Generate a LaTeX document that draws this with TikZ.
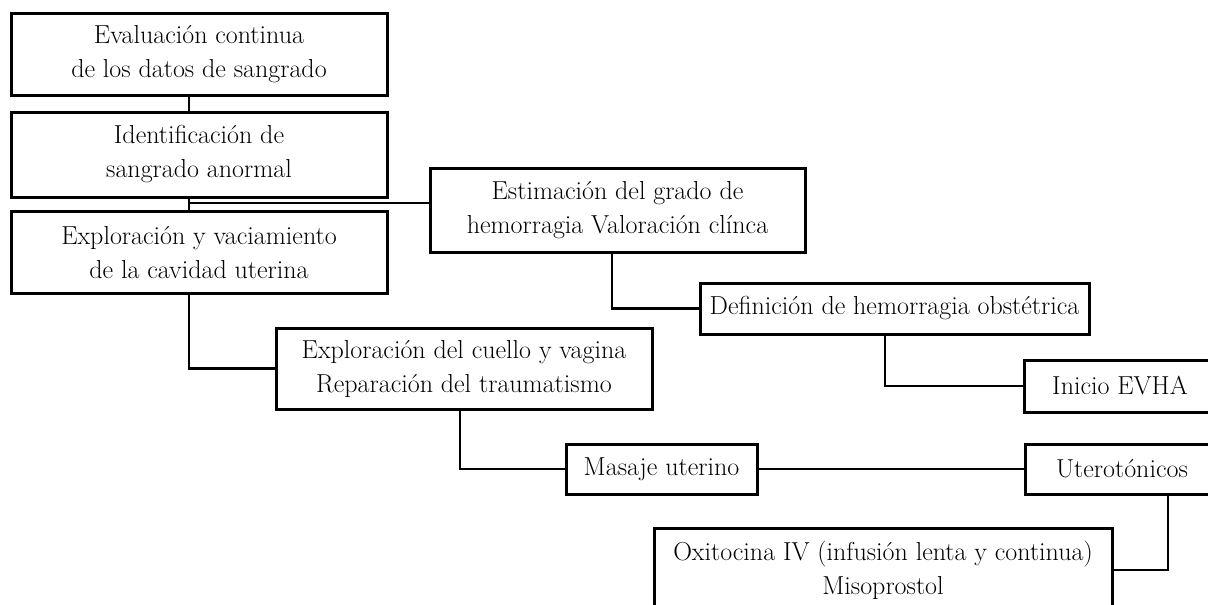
\documentclass[tikz,border=0pt]{standalone}
\tikzset{box/.style={draw,line width=3pt,align=center,inner sep=0pt,font=\fontsize{26}{34}\selectfont}}

\begin{document}
\begin{tikzpicture}[x=1pt,y=-1pt,line width=2.8pt]
        \useasboundingbox (0,0) rectangle (1208,605);
        \clip (0,0) rectangle (1208,605);
        \node[box,minimum width=376pt,minimum height=82pt] (eval) at (199,54) {Evaluación continua\\de los datos de sangrado};
        \node[box,minimum width=376pt,minimum height=85pt] (ident) at (199,154.5) {Identificación de\\sangrado anormal};
        \node[box,minimum width=376pt,minimum height=82pt] (explo) at (199,252.5) {Exploración y vaciamiento\\de la cavidad uterina};
        \node[box,minimum width=375pt,minimum height=84pt] (estim) at (617.5,210) {Estimación del grado de\\hemorragia Valoración clínca};
        \node[box,minimum width=389pt,minimum height=51pt] (defin) at (894.5,308.5) {Definición de hemorragia obstétrica};
        \node[box,minimum width=192pt,minimum height=52pt] (inicio) at (1120,386) {Inicio EVHA};
        \node[box,minimum width=376pt,minimum height=81pt] (cuello) at (464,368.5) {Exploración del cuello y vagina\\Reparación del traumatismo};
        \node[box,minimum width=191pt,minimum height=50pt] (masaje) at (661.5,469) {Masaje uterino};
        \node[box,minimum width=194pt,minimum height=50pt] (utero) at (1122,469) {Uterotónicos};
        \node[box,minimum width=458pt,minimum height=84pt] (oxi) at (883,570) {Oxitocina IV (infusión lenta y continua)\\Misoprostol};
        % connectors
        \coordinate (trunk) at (189,203);
        \coordinate (k1) at (612,0);
        \coordinate (k2) at (885,0);
        \coordinate (k3) at (460,0);
        \coordinate (k4) at (1168,0);
        \draw (eval.south -| trunk) -- (ident.north -| trunk);
        \draw (ident.south -| trunk) -- (explo.north -| trunk);
        \draw (trunk) -- (trunk -| estim.west);
        \draw (explo.south -| trunk) |- (cuello.west);
        \draw (estim.south -| k1) |- (defin.west);
        \draw (defin.south -| k2) |- (inicio.west);
        \draw (cuello.south -| k3) |- (masaje.west);
        \draw (masaje.east) -- (utero.west);
        \draw (utero.south -| k4) |- (oxi.east);
    \end{tikzpicture}
\end{document}
